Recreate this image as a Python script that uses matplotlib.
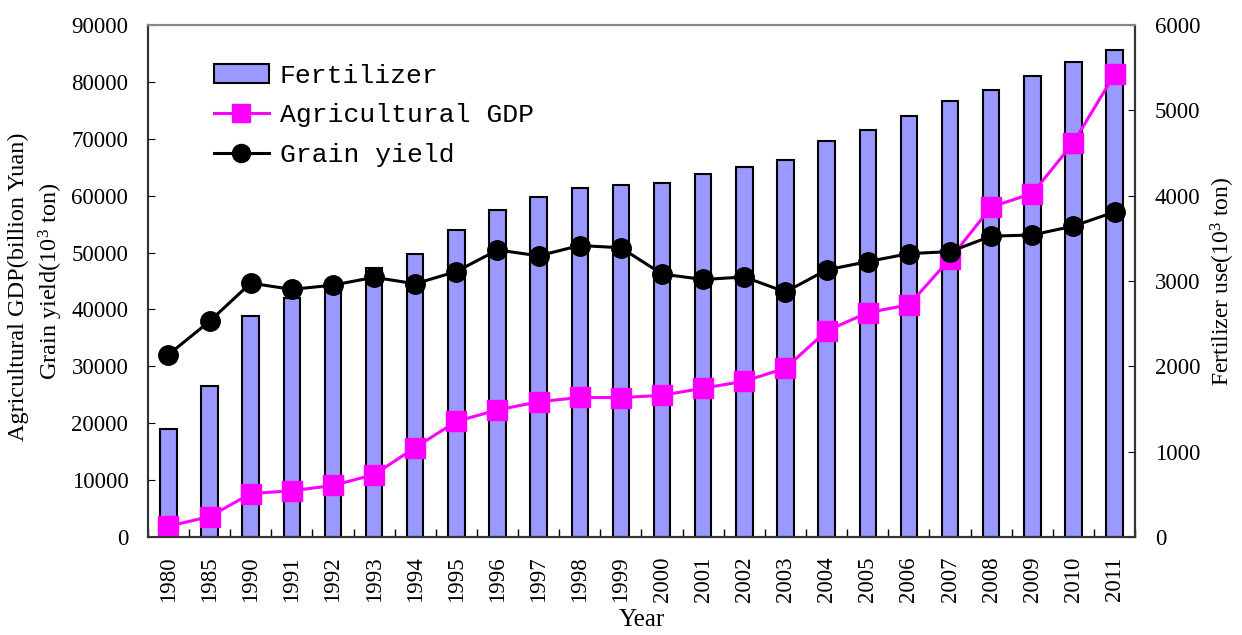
import matplotlib
matplotlib.use('Agg')
import matplotlib.pyplot as plt
from matplotlib.patches import Patch
from matplotlib.lines import Line2D
from matplotlib.ticker import FixedLocator, NullFormatter

years = ['1980', '1985', '1990', '1991', '1992', '1993', '1994', '1995', '1996', '1997',
         '1998', '1999', '2000', '2001', '2002', '2003', '2004', '2005', '2006', '2007',
         '2008', '2009', '2010', '2011']

fertilizer = [1269.4, 1775.8, 2590.3, 2805.1, 2930.2, 3151.9, 3317.9, 3593.7, 3827.9, 3980.7,
              4083.7, 4124.3, 4146.4, 4253.8, 4339.4, 4411.6, 4636.6, 4766.2, 4927.7, 5107.8,
              5239.0, 5404.4, 5561.7, 5704.2]

agriGDP = [1922.6, 3619.5, 7662.1, 8157.0, 9084.7, 10995.5, 15750.5, 20340.9, 22353.7, 23788.4,
           24541.9, 24519.1, 24915.8, 26179.6, 27390.8, 29691.8, 36239.0, 39450.9, 40810.8, 48893.0,
           58002.2, 60361.0, 69319.8, 81303.9]

grainYield = [32056, 37911, 44624, 43529, 44266, 45649, 44510, 46662, 50454, 49417,
              51230, 50839, 46218, 45264, 45706, 43070, 46947, 48402, 49804, 50160,
              52871, 53082, 54648, 57121]

plt.rcParams['font.family'] = 'Liberation Serif'
plt.rcParams['mathtext.fontset'] = 'custom'
plt.rcParams['mathtext.rm'] = 'Liberation Serif'
plt.rcParams['mathtext.it'] = 'Liberation Serif'

fig = plt.figure(figsize=(12.42, 6.35), dpi=100)
ax = fig.add_axes([0.119, 0.154, 0.795, 0.807])
ax2 = ax.twinx()

x = list(range(len(years)))

# bars on the right axis, lines on the left axis drawn above them
ax2.bar(x, fertilizer, width=0.4, color='#9999FF', edgecolor='black', linewidth=1.5)

ax.plot(x, agriGDP, color='#FF00FF', linewidth=2.2, marker='s', markersize=14)
ax.plot(x, grainYield, color='black', linewidth=2.2, marker='o', markersize=14)

ax.set_zorder(ax2.get_zorder() + 1)
ax.patch.set_visible(False)

ax.set_xlim(-0.5, len(years) - 0.5)
ax.set_ylim(0, 90000)
ax2.set_ylim(0, 6000)
ax.set_yticks(range(0, 90001, 10000))
ax2.set_yticks(range(0, 6001, 1000))

ax.set_xticks(x)
ax.set_xticklabels(years, rotation=90, fontsize=16.5)
ax.xaxis.set_minor_locator(FixedLocator([i + 0.5 for i in range(-1, len(years))]))
ax.xaxis.set_minor_formatter(NullFormatter())
ax.tick_params(axis='x', which='major', length=0, pad=14)
ax.tick_params(axis='x', which='minor', direction='in', length=6, width=1)
ax.tick_params(axis='y', direction='in', length=5, labelsize=16.5, pad=14)
ax2.tick_params(axis='y', direction='in', length=5, labelsize=16.5, pad=14)

for a in (ax, ax2):
    for s in a.spines.values():
        s.set_linewidth(1.5)
        s.set_color('#333333')
    a.spines['top'].set_color('#888888')

ax.set_xlabel('Year', fontsize=18, labelpad=5)
fig.text(0.015, 0.548, 'Agricultural GDP(billion Yuan)', rotation=90, fontsize=17.5,
         ha='center', va='center')
fig.text(0.041, 0.557, r'Grain yield(10$^3$ ton)', rotation=90, fontsize=17.5,
         ha='center', va='center')
ax2.set_ylabel(r'Fertilizer use(10$^3$ ton)', fontsize=17, labelpad=6)

handles = [
    Patch(facecolor='#9999FF', edgecolor='black', linewidth=1.5),
    Line2D([], [], color='#FF00FF', linewidth=2.2, marker='s', markersize=13),
    Line2D([], [], color='black', linewidth=2.2, marker='o', markersize=13),
]
labels = ['Fertilizer', 'Agricultural GDP', 'Grain yield']
leg = ax.legend(handles, labels, loc='upper left', bbox_to_anchor=(0.056, 0.945),
                frameon=False, prop={'family': 'Liberation Mono', 'size': 19},
                handlelength=2.1, handletextpad=0.4, labelspacing=0.6, borderaxespad=0)

fig.savefig('out.png', dpi=100)
